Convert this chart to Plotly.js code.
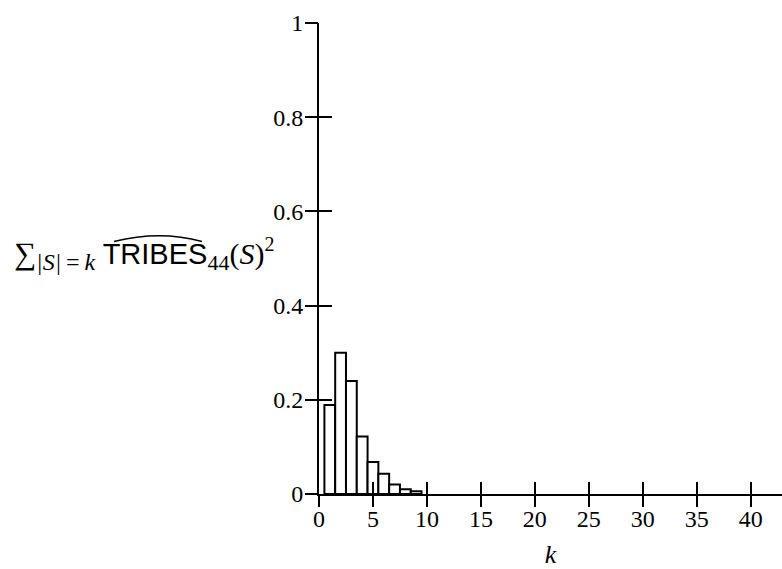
<!DOCTYPE html>
<html>
<head>
<meta charset="utf-8">
<script src="https://cdn.plot.ly/plotly-3.0.1.min.js"></script>
<style>html,body{margin:0;padding:0;background:#fff;}</style>
</head>
<body>
<div id="chart" style="width:782px;height:569px;"></div>
<script>
// Data
const k = [1, 2, 3, 4, 5, 6, 7, 8, 9];
const weight = [0.189, 0.300, 0.240, 0.122, 0.068, 0.043, 0.020, 0.010, 0.0057];
const xTicks = [0, 5, 10, 15, 20, 25, 30, 35, 40];
const xTickText = ['0', '5', '10', '15', '20', '25', '30', '35', '40'];
const yTicks = [0, 0.2, 0.4, 0.6, 0.8, 1];
const yTickText = ['0', '0.2', '0.4', '0.6', '0.8', '1'];

const W = 782, H = 569;
const M = {l: 319, r: 0, t: 23, b: 75};
const pw = W - M.l - M.r, ph = H - M.t - M.b;
const px = x => (x - M.l) / pw;
const py = y => (H - M.b - y) / ph;

const tickFont = {family: 'Liberation Serif, Times New Roman, serif', size: 24, color: '#000'};

const trace = {
  type: 'bar', x: k, y: weight, width: 1,
  marker: {color: '#fff', line: {color: '#000', width: 2}},
  hoverinfo: 'x+y', showlegend: false
};
// empty helper trace so the overlaying tick axes get drawn
const helper = {type: 'scatter', x: [], y: [], xaxis: 'x2', yaxis: 'y2', showlegend: false, hoverinfo: 'skip'};

const xr = [0, 42.9], yr = [0, 1];
const layout = {
  width: W, height: H,
  margin: M,
  paper_bgcolor: '#fff', plot_bgcolor: '#fff',
  showlegend: false,
  xaxis: {
    range: xr, tickvals: xTicks, ticktext: xTickText,
    ticks: 'inside', ticklen: 12, tickwidth: 2, tickcolor: '#000',
    ticklabelstandoff: 2,
    showline: true, linecolor: '#000', linewidth: 2,
    showgrid: false, zeroline: false, tickfont: tickFont,
    title: {text: '<i>k</i>', font: {family: 'Liberation Serif, serif', size: 26, color: '#000'}, standoff: 24}
  },
  xaxis2: {
    range: xr, tickvals: xTicks, overlaying: 'x', anchor: 'y2', side: 'bottom',
    ticks: 'outside', ticklen: 12, tickwidth: 2, tickcolor: '#000',
    showticklabels: false, showline: false, showgrid: false, zeroline: false
  },
  yaxis: {
    range: yr, tickvals: yTicks, ticktext: yTickText,
    ticks: 'inside', ticklen: 13, tickwidth: 2, tickcolor: '#000',
    ticklabelstandoff: 9,
    showline: true, linecolor: '#000', linewidth: 2,
    showgrid: false, zeroline: false, tickfont: tickFont
  },
  yaxis2: {
    range: yr, tickvals: yTicks, overlaying: 'y', anchor: 'x2', side: 'left',
    ticks: 'outside', ticklen: 13, tickwidth: 2, tickcolor: '#000',
    showticklabels: false, showline: false, showgrid: false, zeroline: false
  },
  annotations: [{
    xref: 'paper', yref: 'paper', x: px(12), y: py(254),
    xanchor: 'left', yanchor: 'middle', showarrow: false,
    font: {family: 'Liberation Serif, serif', size: 30, color: '#000'},
    text: "<span style='font-size:31px'>∑</span><sub><span style='font-size:24px'><i>|S|</i>\u2009=\u2009<i>k</i></span></sub> <span style='font-family:Liberation Sans, Arial, sans-serif;font-size:29px'>TRIBES</span><sub><span style='font-size:22px'>44</span></sub>(<i>S</i>)<sup><span style='font-size:20px'>2</span></sup>"
  }],
  shapes: [{
    type: 'path', xref: 'paper', yref: 'paper',
    path: `M ${px(114)},${py(241.5)} Q ${px(160)},${py(230)} ${px(202)},${py(241.5)}`,
    line: {color: '#000', width: 1.4}
  }]
};

Plotly.newPlot('chart', [trace, helper], layout, {displayModeBar: false, staticPlot: true});
</script>
</body>
</html>
